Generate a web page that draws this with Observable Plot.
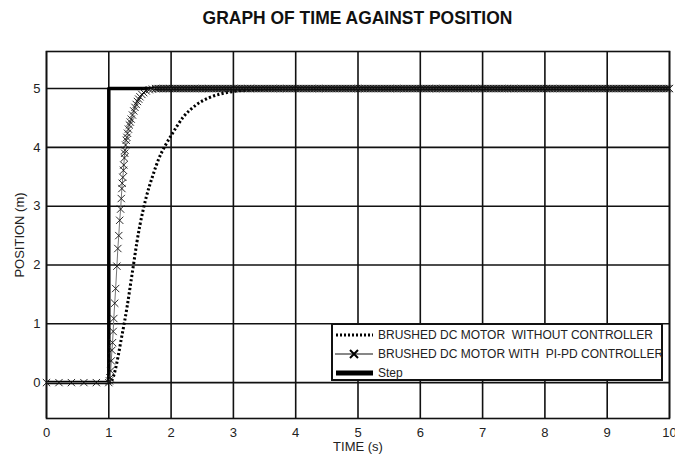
<!DOCTYPE html>
<html>
<head>
<meta charset="utf-8">
<script src="https://cdn.jsdelivr.net/npm/d3@7"></script>
<script src="https://cdn.jsdelivr.net/npm/@observablehq/plot@0.6"></script>
<style>
  html, body { margin: 0; padding: 0; background: #fff; }
  #wrap { position: relative; width: 675px; height: 454px; overflow: hidden; }
  #title { position: absolute; top: 8px; left: 46px; width: 623px; text-align: center;
           font: bold 18px "Liberation Sans", Arial, sans-serif; color: #111; transform: scaleX(0.97); }
  #chart { position: absolute; top: 36px; left: 0; }
  #legend { position: absolute; left: 331px; top: 323px; width: 328px; height: 54px;
            border: 2px solid #111; background: #fff;
            font: 12px "Liberation Sans", Arial, sans-serif; color: #222; }
  .row { position: absolute; left: 2px; height: 18px; display: flex; align-items: center; white-space: pre; }
  .row svg { margin-right: 3px; }
</style>
</head>
<body>
<div id="wrap">
  <div id="title">GRAPH OF TIME AGAINST POSITION</div>
  <div id="chart"></div>
  <div id="legend"></div>
</div>
<script>
// ---- data ----
const xTicks = [0, 1, 2, 3, 4, 5, 6, 7, 8, 9, 10];
const yTicks = [0, 1, 2, 3, 4, 5];

// Step input
const stepTime = [0, 1, 1, 10];
const stepPos  = [0, 0, 5, 5];

// Brushed DC motor without controller (dotted)
const openTime = [0, 1, 1.05, 1.1, 1.15, 1.2, 1.25, 1.3, 1.35, 1.4, 1.45, 1.5, 1.55, 1.6, 1.7, 1.8, 1.9, 2.0, 2.2, 2.4, 2.6, 2.8, 3.0, 3.3, 3.6, 4.0, 10];
const openPos  = [0, 0, 0.04, 0.2, 0.45, 0.74, 1.02, 1.33, 1.68, 2.03, 2.38, 2.68, 2.93, 3.15, 3.5, 3.8, 4.02, 4.2, 4.52, 4.72, 4.84, 4.91, 4.95, 4.98, 4.995, 5, 5];

// Brushed DC motor with PI-PD controller (line + x markers)
const ctrlRiseTime = [0, 0.2, 0.4, 0.6, 0.8, 1.0, 1.01, 1.02, 1.03, 1.04, 1.05, 1.06, 1.07, 1.08, 1.095, 1.11, 1.13, 1.145, 1.16, 1.175, 1.19, 1.2, 1.21, 1.215, 1.225, 1.235, 1.24, 1.25, 1.255, 1.26, 1.27, 1.28, 1.29, 1.3, 1.315, 1.33, 1.345, 1.36, 1.38, 1.4, 1.42, 1.44, 1.46, 1.48, 1.5, 1.53, 1.56, 1.6, 1.65, 1.7, 1.75];
const ctrlRisePos  = [0, 0, 0, 0, 0, 0, 0.03, 0.08, 0.2, 0.37, 0.55, 0.68, 0.87, 1.09, 1.35, 1.6, 1.98, 2.28, 2.5, 2.76, 2.95, 3.13, 3.3, 3.39, 3.49, 3.61, 3.7, 3.82, 3.9, 3.95, 4.04, 4.12, 4.17, 4.24, 4.31, 4.38, 4.43, 4.48, 4.55, 4.62, 4.68, 4.73, 4.78, 4.82, 4.86, 4.9, 4.93, 4.96, 4.98, 4.99, 5.0];
const ctrlSettledPos = 5; // stays at 5 up to t = 10, solver samples every 0.025 s
const ctrlSettledTime = d3.range(1.775, 10.0001, 0.025);

const seriesNames = ["BRUSHED DC MOTOR  WITHOUT CONTROLLER", "BRUSHED DC MOTOR WITH  PI-PD CONTROLLER", "Step"];

// ---- tables ----
const step = stepTime.map((t, i) => ({t, y: stepPos[i]}));
const open = openTime.map((t, i) => ({t, y: openPos[i]}));
const ctrl = ctrlRiseTime.map((t, i) => ({t, y: ctrlRisePos[i]}))
  .concat(ctrlSettledTime.map(t => ({t, y: ctrlSettledPos})));

const font = '"Liberation Sans", Arial, sans-serif';

const chart = Plot.plot({
  width: 675,
  height: 418,
  marginLeft: 46,
  marginRight: 6,
  marginTop: 15,
  marginBottom: 36,
  style: {fontFamily: font, fontSize: "13px", color: "#222", background: "#fff"},
  x: {domain: [0, 10], ticks: xTicks},
  y: {domain: [-0.61, 5.63], ticks: yTicks},
  marks: [
    Plot.gridX(xTicks, {stroke: "#111", strokeOpacity: 1, strokeWidth: 1.6}),
    Plot.gridY(yTicks, {stroke: "#111", strokeOpacity: 1, strokeWidth: 1.6}),
    Plot.axisX(xTicks, {tickSize: 0, tickPadding: 9, fontSize: 13, tickFormat: d3.format("d"), label: "TIME (s)", labelAnchor: "center", labelArrow: "none", labelOffset: 32}),
    Plot.axisY(yTicks, {tickSize: 0, tickPadding: 6, fontSize: 13, tickFormat: d3.format("d"), label: "POSITION (m)", labelAnchor: "center", labelArrow: "none", labelOffset: 32}),
    Plot.line(step, {x: "t", y: "y", stroke: "#000", strokeWidth: 3.5, strokeLinecap: "butt"}),
    Plot.line(open, {x: "t", y: "y", stroke: "#000", strokeWidth: 3, strokeDasharray: "2.2,2.2", strokeLinecap: "butt", curve: "monotone-x"}),
    Plot.line(ctrl, {x: "t", y: "y", stroke: "#777", strokeWidth: 1}),
    Plot.dot(ctrl, {x: "t", y: "y", symbol: "times", r: 3.4, stroke: "#111", strokeWidth: 0.9}),
    Plot.frame({stroke: "#111", strokeWidth: 1.6})
  ]
});
document.getElementById("chart").appendChild(chart);

// ---- legend ----
const legend = document.getElementById("legend");
const samples = [
  '<svg width="40" height="10"><line x1="1" y1="5" x2="38" y2="5" stroke="#000" stroke-width="3" stroke-dasharray="2,2"/></svg>',
  '<svg width="40" height="10"><line x1="0" y1="5" x2="38" y2="5" stroke="#111" stroke-width="1.2"/><path d="M15,1 L23,9 M15,9 L23,1" stroke="#000" stroke-width="2"/></svg>',
  '<svg width="40" height="10"><line x1="1" y1="5" x2="38" y2="5" stroke="#000" stroke-width="5"/></svg>'
];
seriesNames.forEach((name, i) => {
  const row = document.createElement("div");
  row.className = "row";
  row.style.top = (1 + i * 19) + "px";
  row.innerHTML = samples[i] + "<span>" + name + "</span>";
  legend.appendChild(row);
});
</script>
</body>
</html>
